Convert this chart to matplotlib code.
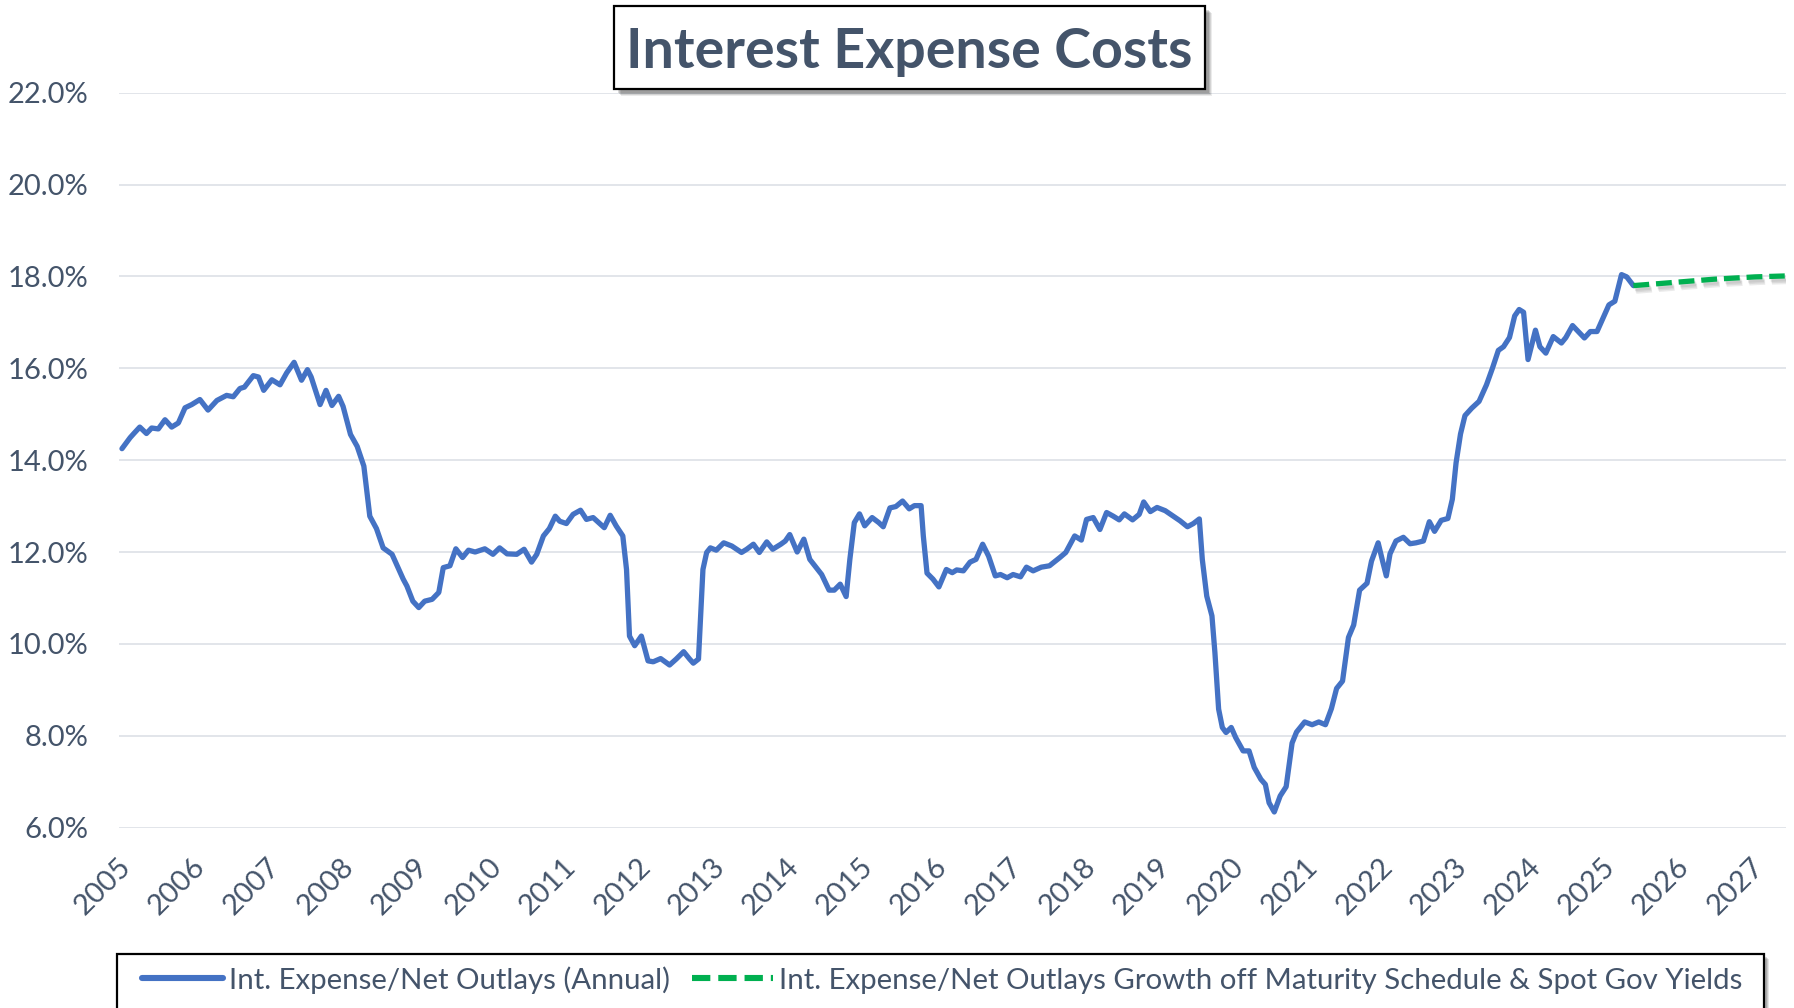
import numpy as np
import matplotlib
matplotlib.use("Agg")
import matplotlib.pyplot as plt
import matplotlib.patheffects as pe
import matplotlib.transforms as mtransforms
from matplotlib.patches import Rectangle
from matplotlib.ticker import FuncFormatter

plt.rcParams['font.family'] = ['Lato', 'DejaVu Sans']

# Int. expense / net outlays, %, x in decimal years
hist_year = [
    2005.04, 2005.15, 2005.20, 2005.28, 2005.37, 2005.44, 2005.53, 2005.62, 2005.71, 2005.80,
    2005.89, 2005.98, 2006.09, 2006.20, 2006.32, 2006.45, 2006.54, 2006.63, 2006.69, 2006.81,
    2006.88, 2006.95, 2007.06, 2007.17, 2007.26, 2007.36, 2007.46, 2007.54, 2007.59, 2007.71,
    2007.79, 2007.87, 2007.96, 2008.02, 2008.12, 2008.21, 2008.30, 2008.38, 2008.47, 2008.56,
    2008.68, 2008.83, 2008.88, 2008.96, 2009.04, 2009.12, 2009.22, 2009.31, 2009.37, 2009.46,
    2009.54, 2009.63, 2009.71, 2009.80, 2009.93, 2010.04, 2010.13, 2010.23, 2010.36, 2010.46,
    2010.56, 2010.63, 2010.72, 2010.80, 2010.88, 2010.94, 2011.03, 2011.12, 2011.22, 2011.30,
    2011.39, 2011.54, 2011.62, 2011.70, 2011.79, 2011.84, 2011.88, 2011.95, 2012.04, 2012.13,
    2012.20, 2012.30, 2012.42, 2012.51, 2012.61, 2012.69, 2012.74, 2012.81, 2012.87, 2012.92,
    2012.97, 2013.05, 2013.15, 2013.26, 2013.39, 2013.46, 2013.55, 2013.63, 2013.73, 2013.81,
    2013.92, 2013.98, 2014.04, 2014.14, 2014.23, 2014.31, 2014.47, 2014.57, 2014.64, 2014.72,
    2014.80, 2014.85, 2014.91, 2014.98, 2015.05, 2015.15, 2015.24, 2015.30, 2015.39, 2015.47,
    2015.56, 2015.65, 2015.72, 2015.81, 2015.84, 2015.89, 2015.97, 2016.05, 2016.15, 2016.23,
    2016.29, 2016.38, 2016.47, 2016.55, 2016.64, 2016.72, 2016.81, 2016.88, 2016.97, 2017.05,
    2017.15, 2017.23, 2017.32, 2017.43, 2017.54, 2017.68, 2017.76, 2017.88, 2017.97, 2018.04,
    2018.13, 2018.22, 2018.31, 2018.40, 2018.48, 2018.55, 2018.66, 2018.75, 2018.81, 2018.90,
    2018.99, 2019.10, 2019.21, 2019.30, 2019.40, 2019.48, 2019.56, 2019.60, 2019.66, 2019.73,
    2019.77, 2019.82, 2019.87, 2019.92, 2019.99, 2020.05, 2020.15, 2020.23, 2020.30, 2020.39,
    2020.45, 2020.50, 2020.57, 2020.65, 2020.73, 2020.81, 2020.87, 2020.98, 2021.08, 2021.17,
    2021.26, 2021.34, 2021.41, 2021.49, 2021.57, 2021.64, 2021.72, 2021.82, 2021.88, 2021.97,
    2022.03, 2022.08, 2022.13, 2022.21, 2022.31, 2022.40, 2022.48, 2022.58, 2022.66, 2022.73,
    2022.82, 2022.91, 2022.97, 2023.02, 2023.08, 2023.14, 2023.23, 2023.33, 2023.43, 2023.51,
    2023.59, 2023.66, 2023.74, 2023.81, 2023.87, 2023.93, 2023.99, 2024.09, 2024.15, 2024.23,
    2024.33, 2024.44, 2024.50, 2024.59, 2024.75, 2024.83, 2024.92, 2025.08, 2025.16, 2025.25,
    2025.32, 2025.41,
]
hist_pct = [
    14.25, 14.49, 14.58, 14.72, 14.58, 14.70, 14.68, 14.88, 14.72, 14.81,
    15.14, 15.21, 15.32, 15.09, 15.30, 15.41, 15.38, 15.56, 15.59, 15.84,
    15.81, 15.52, 15.75, 15.64, 15.90, 16.13, 15.74, 15.97, 15.81, 15.21,
    15.52, 15.19, 15.39, 15.17, 14.56, 14.30, 13.87, 12.78, 12.51, 12.09,
    11.95, 11.41, 11.26, 10.93, 10.79, 10.93, 10.97, 11.12, 11.66, 11.70,
    12.07, 11.88, 12.04, 12.00, 12.07, 11.95, 12.09, 11.96, 11.95, 12.06,
    11.78, 11.95, 12.35, 12.51, 12.78, 12.67, 12.62, 12.82, 12.91, 12.71,
    12.75, 12.53, 12.80, 12.57, 12.35, 11.62, 10.17, 9.96, 10.17, 9.63,
    9.61, 9.68, 9.54, 9.67, 9.83, 9.67, 9.58, 9.67, 11.62, 11.99,
    12.09, 12.04, 12.20, 12.13, 11.99, 12.06, 12.17, 11.99, 12.22, 12.06,
    12.17, 12.24, 12.38, 12.00, 12.28, 11.84, 11.51, 11.17, 11.17, 11.30,
    11.03, 11.84, 12.64, 12.83, 12.57, 12.75, 12.64, 12.55, 12.96, 12.99,
    13.11, 12.94, 13.01, 13.01, 12.35, 11.54, 11.41, 11.24, 11.62, 11.55,
    11.61, 11.59, 11.78, 11.84, 12.17, 11.91, 11.48, 11.51, 11.44, 11.51,
    11.46, 11.67, 11.59, 11.67, 11.70, 11.88, 11.99, 12.35, 12.26, 12.71,
    12.75, 12.49, 12.86, 12.78, 12.70, 12.83, 12.70, 12.82, 13.09, 12.88,
    12.97, 12.90, 12.78, 12.68, 12.55, 12.62, 12.72, 11.84, 11.04, 10.61,
    9.81, 8.58, 8.18, 8.07, 8.18, 7.96, 7.67, 7.67, 7.31, 7.05,
    6.94, 6.54, 6.34, 6.69, 6.89, 7.84, 8.08, 8.30, 8.24, 8.30,
    8.24, 8.59, 9.03, 9.19, 10.14, 10.41, 11.17, 11.32, 11.80, 12.20,
    11.80, 11.48, 11.96, 12.24, 12.32, 12.18, 12.20, 12.24, 12.66, 12.45,
    12.69, 12.73, 13.15, 13.94, 14.57, 14.97, 15.13, 15.28, 15.64, 16.00,
    16.39, 16.47, 16.67, 17.14, 17.28, 17.22, 16.19, 16.83, 16.47, 16.33,
    16.69, 16.55, 16.67, 16.93, 16.66, 16.80, 16.80, 17.38, 17.46, 18.04,
    17.99, 17.80,
]

# projection off maturity schedule & spot gov yields
proj_year = [2025.41, 2025.96, 2026.50, 2027.05, 2027.45]
proj_pct = [17.80, 17.87, 17.94, 17.99, 18.01]

years = list(range(2005, 2028))
yticks = [6, 8, 10, 12, 14, 16, 18, 20, 22]

title = 'Interest Expense Costs'
hist_label = 'Int. Expense/Net Outlays (Annual)'
proj_label = 'Int. Expense/Net Outlays Growth off Maturity Schedule & Spot Gov Yields'

text_col = '#44546A'
W, H = 1794, 1008

fig = plt.figure(figsize=(W / 100, H / 100), dpi=100)
ax = fig.add_axes([119 / W, 1 - 827.6 / H, 1666.5 / W, (827.6 - 92.7) / H])

ax.plot(hist_year, hist_pct, color='#4472C4', lw=3.8,
        solid_joinstyle='round', solid_capstyle='round', label=hist_label, zorder=3)
# soft shadow under the projection, a few faint layers
shadow = [pe.SimpleLineShadow(offset=(1 + k * 0.5, -2 - k), shadow_color='#606060', alpha=0.12)
          for k in range(3)]
ax.plot(proj_year, proj_pct, color='#00B050', lw=3.8, dashes=(3.0, 1.3),
        label=proj_label, zorder=3, path_effects=shadow + [pe.Normal()])

ax.set_xlim(2005, 2027.46)
ax.set_ylim(6, 22)
ax.set_yticks(yticks)
ax.set_xticks(years)
ax.yaxis.set_major_formatter(FuncFormatter(lambda v, p: f'{v:.1f}%'))
ax.grid(axis='y', color='#DFE3E8', lw=1.3)
ax.set_axisbelow(True)
for s in ax.spines.values():
    s.set_visible(False)
ax.tick_params(axis='both', length=0, labelsize=21, labelcolor=text_col)
ax.tick_params(axis='y', pad=22)
ax.tick_params(axis='x', pad=25)
shift = mtransforms.ScaledTranslation(8 / 100, 0, fig.dpi_scale_trans)
for lab in ax.get_xticklabels():
    lab.set_rotation(45)
    lab.set_ha('right')
    lab.set_va('center')
    lab.set_rotation_mode('anchor')
    lab.set_transform(lab.get_transform() + shift)

# title box with a soft shadow
tx0, ty0, tw, th = 614 / W, 1 - 89 / H, 591 / W, 83 / H
for k, a in enumerate([0.08, 0.10, 0.12, 0.14]):
    off = 7 - k
    fig.patches.append(Rectangle((tx0 + off / W, ty0 - off / H), tw, th, transform=fig.transFigure,
                                 fc='#000000', ec='none', alpha=a, zorder=4))
fig.patches.append(Rectangle((tx0, ty0), tw, th, transform=fig.transFigure,
                             fc='white', ec='black', lw=1.6, zorder=5))
fig.text(909.5 / W, 1 - 68 / H, title, ha='center', va='baseline', fontsize=40,
         fontweight='bold', color=text_col, zorder=6)

# legend box, runs off the bottom edge
lx0, ltop, lw_ = 117 / W, 1 - 954 / H, 1647 / W
for k, a in enumerate([0.10, 0.12, 0.14]):
    off = 5 - k
    fig.patches.append(Rectangle((lx0 + off / W, -0.05), lw_, ltop + 0.05 - off / H,
                                 transform=fig.transFigure, fc='#000000', ec='none',
                                 alpha=a, zorder=4))
fig.patches.append(Rectangle((lx0, -0.05), lw_, ltop + 0.05, transform=fig.transFigure,
                             fc='white', ec='black', lw=1.6, zorder=5))
leg = fig.legend(loc='center left', bbox_to_anchor=(142 / W, 1 - 980 / H), ncol=2,
                 frameon=False, fontsize=21.2, handlelength=2.75, handletextpad=0.2,
                 columnspacing=0.75, borderpad=0, borderaxespad=0)
leg.set_zorder(7)
for t in leg.get_texts():
    t.set_color(text_col)
for h in leg.legend_handles:
    h.set_path_effects([])
    h.set_linewidth(4.4)

fig.savefig('out.png', dpi=100, facecolor='white')
